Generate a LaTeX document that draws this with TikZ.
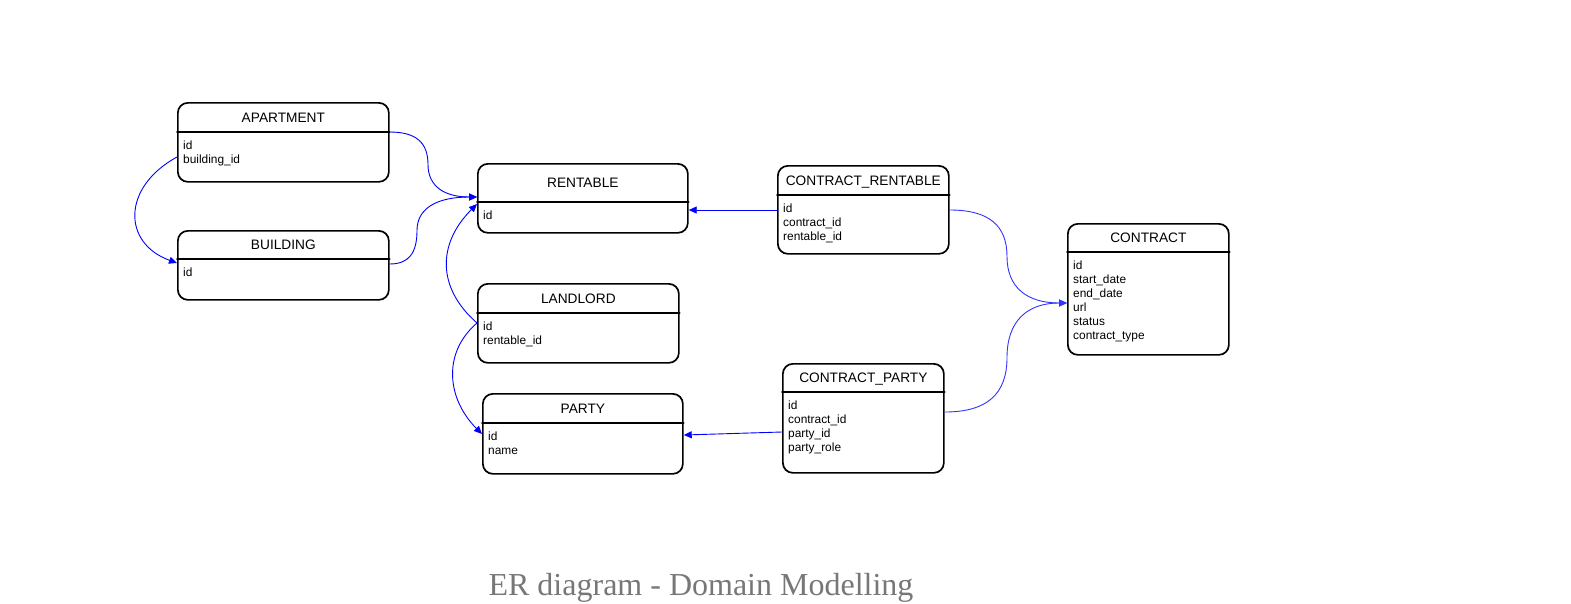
\documentclass[tikz,border=0pt]{standalone}
\usepackage{fontspec}
\setmainfont{Liberation Sans}
\newfontfamily\captionfont{Liberation Serif}
\usepackage{tikz}
\usetikzlibrary{calc}
\usetikzlibrary{arrows.meta}
\definecolor{fkblue}{RGB}{0,0,255}
\definecolor{fklightblue}{RGB}{51,51,255}
\definecolor{captiongray}{RGB}{119,119,119}
\tikzstyle{entity} = [draw=black, line width=1.7pt, rounded corners=10pt, inner sep=0pt]
\tikzstyle{divider} = [draw=black, line width=1.7pt]
\tikzstyle{etitle} = [anchor=base, inner sep=0pt, font=\fontsize{13.7}{16}\selectfont]
\tikzstyle{eattr} = [anchor=north west, align=left, inner sep=0pt, font=\fontsize{11.9}{14}\selectfont]
\tikzstyle{fk} = [-{Triangle[length=8pt,width=7pt]}, draw=fkblue, line width=0.9pt]
\tikzstyle{fklight} = [fk, draw=fklightblue]
% entity box: name, left, top, width, height, header height, title, attributes
\newcommand{\entity}[8]{%
	\node[entity, anchor=north west, minimum width=#4pt, minimum height=#5pt] (#1) at (#2,#3) {};
	\draw[divider] ($(#1.north west)+(0,#6)$) -- ($(#1.north east)+(0,#6)$);
	\node[etitle] (#1-title) at ($(#1.north)+(0,#6/2+5)$) {#7};
	\node[eattr] (#1-attr) at ($(#1.north west)+(6,#6+9)$) {#8};
}

\begin{document}
\begin{tikzpicture}[x=1pt, y=-1pt, line join=round, line cap=round]
	% page frame (pixel grid of the reference, y downwards)
	\useasboundingbox (0,0) rectangle (1571,603);
	
	% ---- 1. Entities ----
	\entity{apt}{177}{102}{211}{79}{30}{APARTMENT}{id\\building\_id}
	\entity{bld}{177}{230}{211}{69}{29}{BUILDING}{id}
	\entity{rent}{477}{163}{210}{69}{39}{RENTABLE}{id}
	\entity{land}{477}{283}{201}{79}{30}{LANDLORD}{id\\rentable\_id}
	\entity{party}{482}{393}{200}{80}{30}{PARTY}{id\\name}
	\entity{cr}{777}{165}{171}{88}{30}{CONTRACT\_RENTABLE}{id\\contract\_id\\rentable\_id}
	\entity{con}{1067}{223}{161}{131}{29}{CONTRACT}{id\\start\_date\\end\_date\\url\\status\\contract\_type}
	\entity{cp}{782}{363}{161}{109}{29}{CONTRACT\_PARTY}{id\\contract\_id\\party\_id\\party\_role}
	
	% ---- 2. Connection points ----
	\coordinate (apt-e) at ($(apt.north east)+(0,30)$);
	\coordinate (apt-w) at ($(apt.north west)+(0,55)$);
	\coordinate (bld-w) at ($(bld.north west)+(0,33)$);
	\coordinate (bld-e) at ($(bld.north east)+(0,34)$);
	\coordinate (rent-w) at ($(rent.north west)+(0,34)$);
	\coordinate (rent-sw) at ($(rent.north west)+(0,41)$);
	\coordinate (rent-e) at ($(rent.north east)+(0,47)$);
	\coordinate (land-w) at ($(land.north west)+(0,40)$);
	\coordinate (party-w) at ($(party.north west)+(0,41)$);
	\coordinate (party-e) at ($(party.north east)+(0,42)$);
	\coordinate (cr-w) at ($(cr.north west)+(0,45)$);
	\coordinate (cr-e) at ($(cr.north east)+(0,45)$);
	\coordinate (con-w) at ($(con.north west)+(0,80)$);
	\coordinate (cp-w) at ($(cp.north west)+(0,69)$);
	\coordinate (cp-e) at ($(cp.north east)+(0,49)$);
	% middle of the vertical runs
	\coordinate (apt-rent) at (428,164.5);
	\coordinate (bld-rent) at (417,230.5);
	\coordinate (cr-con) at (1007,256.5);
	\coordinate (cp-con) at (1007,357.5);
	
	% ---- 3. Foreign keys ----
	\draw[fk] (apt-e) .. controls +(26.7,0) and +(0,-21.7) .. (apt-rent)
		.. controls +(0,21.7) and +(-32.7,0) .. (rent-w);
	\draw[fk] (bld-e) .. controls +(19.3,0) and +(0,22.3) .. (bld-rent)
		.. controls +(0,-22.3) and +(-40,0) .. (rent-w);
	\draw[fk] (land-w) .. controls +(-40,-35) and +(-40,40) .. (rent-sw);
	\draw[fk] (land-w) .. controls +(-35,30) and +(-35,-35) .. (party-w);
	\draw[fk] (apt-w) .. controls +(-55,30) and +(-55,-20) .. (bld-w);
	\draw[fk] (cr-w) -- (rent-e);
	\draw[fk] (cp-w) -- (party-e);
	\draw[fklight] (cr-e) .. controls +(39.3,0) and +(0,-31) .. (cr-con)
		.. controls +(0,31) and +(-40,0) .. (con-w);
	\draw[fklight] (cp-e) .. controls +(42.7,0) and +(0,36.3) .. (cp-con)
		.. controls +(0,-36.3) and +(-40,0) .. (con-w);
	
	% ---- 4. Caption ----
	\node[anchor=base, inner sep=0pt, text=captiongray, font=\captionfont\fontsize{32}{36}\selectfont] (caption) at (701,595) {ER diagram - Domain Modelling};
\end{tikzpicture}
\end{document}
